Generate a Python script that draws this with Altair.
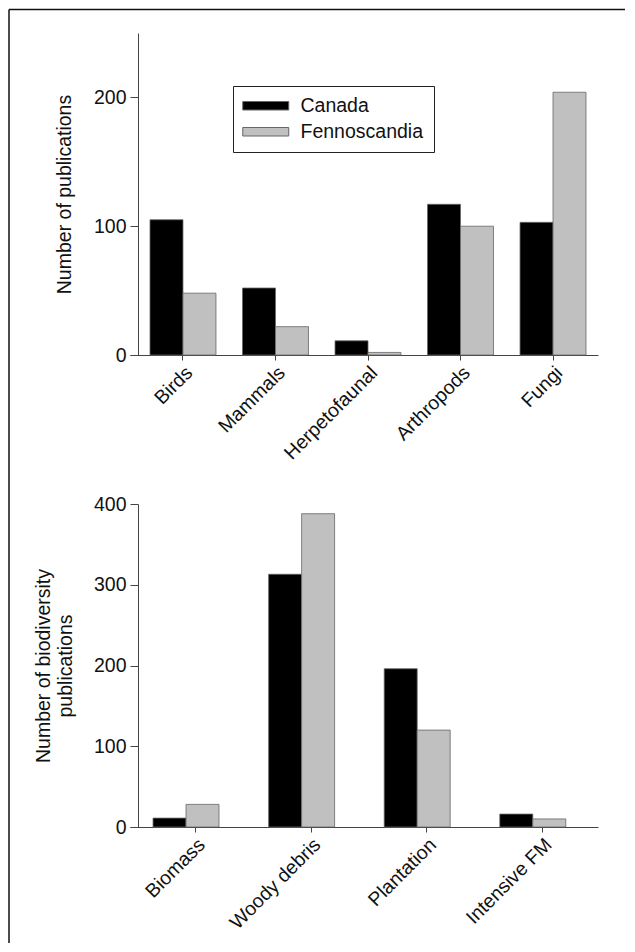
import altair as alt
import pandas as pd

# ---- data ----
taxa = ["Birds", "Mammals", "Herpetofaunal", "Arthropods", "Fungi"]
taxa_canada = [105, 52, 11, 117, 103]
taxa_fenno = [48, 22, 2, 100, 204]

practices = ["Biomass", "Woody debris", "Plantation", "Intensive FM"]
prac_canada = [11, 313, 196, 16]
prac_fenno = [28, 388, 120, 10]

regions = ["Canada", "Fennoscandia"]
fills = ["#000000", "#c0c0c0"]

top_ticks = [0, 100, 200]
bottom_ticks = [0, 100, 200, 300, 400]

FONT = "Liberation Sans"
FS = 19.5


def to_long(cats, a, b):
    rows = []
    for c, va, vb in zip(cats, a, b):
        rows.append({"cat": c, "region": regions[0], "n": va})
        rows.append({"cat": c, "region": regions[1], "n": vb})
    return pd.DataFrame(rows)


def panel(df, cats, ymax, yticks, ytitle, pi, po, align, legx, legy, height, tpad):
    legend = alt.Legend(
        title=None, orient="none", legendX=legx, legendY=legy,
        strokeColor="#222", fillColor="white", padding=10,
        symbolType="M-2,-0.85H7.2V0.85H-2Z", symbolSize=100,
        symbolStrokeColor="#666", symbolStrokeWidth=1, symbolOpacity=1,
        labelFont=FONT, labelFontSize=FS, labelColor="#111",
        labelOffset=38, rowPadding=5,
    )
    return alt.Chart(df).mark_bar(stroke="#666", strokeWidth=0.8).encode(
        x=alt.X("cat:N", sort=cats,
                scale=alt.Scale(paddingInner=pi, paddingOuter=po, align=align),
                axis=alt.Axis(title=None, labelAngle=-45, tickSize=5, labelPadding=3)),
        xOffset=alt.XOffset("region:N", sort=regions,
                            scale=alt.Scale(paddingInner=0, paddingOuter=0)),
        y=alt.Y("n:Q", scale=alt.Scale(domain=[0, ymax], nice=False),
                axis=alt.Axis(values=yticks, title=ytitle, offset=-8,
                              tickSize=8, labelPadding=4, titlePadding=tpad)),
        fill=alt.Fill("region:N", scale=alt.Scale(domain=regions, range=fills),
                      legend=legend),
    ).properties(width=468, height=height)


top_bars = panel(to_long(taxa, taxa_canada, taxa_fenno), taxa, 250, top_ticks,
                 "Number of publications", 0.287, 0.173, 0.625, 103, 53, 322, 19)

# page frame: top and left edges only (the rest is cut off in the reference)
frame_top = alt.Chart(pd.DataFrame({"k": [0]})).mark_rule(
    stroke="#111", strokeWidth=1.5
).encode(x=alt.value(-121), x2=alt.value(495), y=alt.value(-23.5))
frame_left = alt.Chart(pd.DataFrame({"k": [0]})).mark_rule(
    stroke="#111", strokeWidth=1.5
).encode(x=alt.value(-121), y=alt.value(-23.5), y2=alt.value(910))

top = alt.layer(frame_top, frame_left, top_bars)

bottom = panel(to_long(practices, prac_canada, prac_fenno), practices, 400, bottom_ticks,
               ["Number of biodiversity", "publications"], 0.265, 0.157, 0.635,
               284, 20, 323, 18)

chart = alt.vconcat(top, bottom, spacing=149, bounds="flush").properties(
    padding=0, background="white"
).configure_view(strokeWidth=0).configure_axis(
    labelFont=FONT, titleFont=FONT, labelFontSize=FS, titleFontSize=FS,
    titleFontWeight="normal", domainColor="#444", tickColor="#444",
    labelColor="#111", titleColor="#111", grid=False,
)

chart.save("out.html", embed_options={"renderer": "svg", "actions": False})
